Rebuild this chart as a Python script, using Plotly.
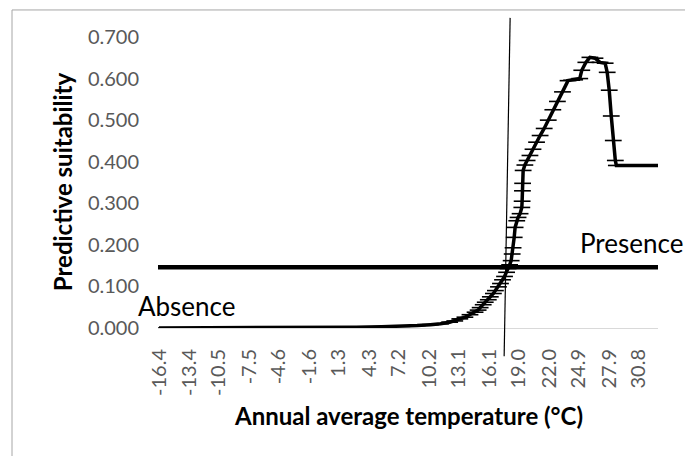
import plotly.graph_objects as go

# ---- data ----
temperature = [
    -16.4, -10.0, -4.0, 0.4, 1.0, 3.0, 5.5, 7.5, 9.0, 10.3, 11.3, 12.2, 12.7,
    13.2, 13.7, 14.2, 14.7, 15.0, 15.2, 15.5, 15.7, 16.0, 16.2, 16.5, 16.7,
    17.0, 17.2, 17.4, 17.6, 17.8, 17.95, 18.1, 18.25, 18.35, 18.44, 18.55,
    18.64, 18.8, 18.93, 19.13, 19.3, 19.33, 19.36, 19.38, 19.43, 19.6, 19.82,
    20.1, 20.4, 20.75, 21.1, 21.5, 21.9, 22.35, 22.8, 23.3, 23.85, 24.2, 24.5,
    25.0, 25.2, 25.6, 26.0, 26.5, 27.0, 27.5, 27.7, 27.9, 28.1, 28.3, 28.5,
    28.6, 30.0, 31.5, 32.9,
]
suitability = [
    0.000, 0.000, 0.000, 0.000, 0.001, 0.002, 0.003, 0.004, 0.006, 0.008, 0.010,
    0.014, 0.017, 0.022, 0.026, 0.032, 0.038, 0.043, 0.049, 0.056, 0.062, 0.068,
    0.075, 0.083, 0.090, 0.099, 0.107, 0.116, 0.124, 0.134, 0.143, 0.152, 0.162,
    0.178, 0.193, 0.218, 0.242, 0.258, 0.266, 0.275, 0.290, 0.305, 0.330, 0.348,
    0.379, 0.392, 0.403, 0.415, 0.430, 0.447, 0.463, 0.480, 0.500, 0.525, 0.545,
    0.568, 0.595, 0.596, 0.597, 0.600, 0.620, 0.639, 0.651, 0.649, 0.639, 0.637,
    0.615, 0.572, 0.510, 0.451, 0.403, 0.391, 0.391, 0.391, 0.391,
]
threshold = 0.146
cut_temp = [18.15, 17.56]      # slanted vertical marker line (top, bottom)
cut_suit = [0.746, -0.068]

x_tick_vals = [-16.4, -13.4, -10.5, -7.5, -4.6, -1.6, 1.3, 4.3, 7.2, 10.2,
               13.1, 16.1, 19.0, 22.0, 24.9, 27.9, 30.8]
x_tick_text = ["-16.4", "-13.4", "-10.5", "-7.5", "-4.6", "-1.6", "1.3", "4.3",
               "7.2", "10.2", "13.1", "16.1", "19.0", "22.0", "24.9", "27.9", "30.8"]
y_tick_vals = [0.0, 0.1, 0.2, 0.3, 0.4, 0.5, 0.6, 0.7]
y_tick_text = ["0.000", "0.100", "0.200", "0.300", "0.400", "0.500", "0.600", "0.700"]

X_RANGE = [-16.5, 32.7]
Y_RANGE = [0.0, 0.7]

FONT = "Lato"
GRAY = "#595959"

# plot area on screen: x 158..658, y 37..327.6
PLOT_L, PLOT_T, PLOT_W, PLOT_H = 158.0, 37.0, 500.0, 290.6


def to_paper_x(v):
    return (v - X_RANGE[0]) / (X_RANGE[1] - X_RANGE[0])


def to_paper_y(v):
    return (v - Y_RANGE[0]) / (Y_RANGE[1] - Y_RANGE[0])


def px_x(p):
    return (p - PLOT_L) / PLOT_W


def px_y(p):
    return (PLOT_T + PLOT_H - p) / PLOT_H


fig = go.Figure()

# presence/absence threshold line
fig.add_trace(go.Scatter(
    x=[X_RANGE[0], temperature[-1]], y=[threshold, threshold],
    mode="lines", line=dict(color="black", width=4.5),
    hoverinfo="skip", showlegend=False,
))

# response curve
fig.add_trace(go.Scatter(
    x=temperature, y=suitability, mode="lines+markers",
    line=dict(color="black", width=3.5),
    marker=dict(symbol="line-ew", size=12, color="black",
                line=dict(color="black", width=1.6)),
    showlegend=False,
))

shapes = [
    dict(type="line", xref="paper", yref="paper",
         x0=to_paper_x(cut_temp[0]), y0=to_paper_y(cut_suit[0]),
         x1=to_paper_x(cut_temp[1]), y1=to_paper_y(cut_suit[1]),
         line=dict(color="black", width=1.2)),
    dict(type="rect", xref="paper", yref="paper",
         x0=px_x(12), x1=px_x(700), y0=px_y(470), y1=px_y(10),
         line=dict(color="#A6A6A6", width=1), fillcolor="rgba(0,0,0,0)"),
]

annotations = [
    dict(text="Absence", x=px_x(186.5), y=px_y(306), xref="paper", yref="paper",
         showarrow=False, font=dict(family=FONT, size=26, color="black"),
         xanchor="center", yanchor="middle"),
    dict(text="Presence", x=px_x(631), y=px_y(243), xref="paper", yref="paper",
         showarrow=False, font=dict(family=FONT, size=26, color="black"),
         xanchor="center", yanchor="middle"),
    dict(text="<b>Annual average temperature (°C)</b>", x=px_x(408.5), y=px_y(415),
         xref="paper", yref="paper", showarrow=False,
         font=dict(family=FONT, size=24, color="black"), xanchor="center", yanchor="middle"),
    dict(text="<b>Predictive suitability</b>", x=px_x(62), y=px_y(182),
         xref="paper", yref="paper", showarrow=False, textangle=-90,
         font=dict(family=FONT, size=24, color="black"), xanchor="center", yanchor="middle"),
]

fig.update_layout(
    width=685, height=456,
    margin=dict(l=158, r=27, t=37, b=128.4),
    paper_bgcolor="white", plot_bgcolor="white",
    shapes=shapes, annotations=annotations,
    xaxis=dict(range=X_RANGE, tickmode="array", tickvals=x_tick_vals, ticktext=x_tick_text,
               tickangle=-90, tickfont=dict(family=FONT, size=20, color=GRAY),
               showgrid=False, zeroline=False, showline=True, linecolor="#D9D9D9",
               linewidth=1, ticks="", ticklabelstandoff=12),
    yaxis=dict(range=Y_RANGE, tickmode="array", tickvals=y_tick_vals, ticktext=y_tick_text,
               tickfont=dict(family=FONT, size=20, color=GRAY),
               showgrid=False, zeroline=False, showline=False, ticks="",
               ticklabelstandoff=18),
)

fig.write_html(
    "out.html",
    config={"displayModeBar": False},
    post_script="document.body.style.margin='0';document.body.style.overflow='hidden';"
                "document.documentElement.style.overflow='hidden';",
)
